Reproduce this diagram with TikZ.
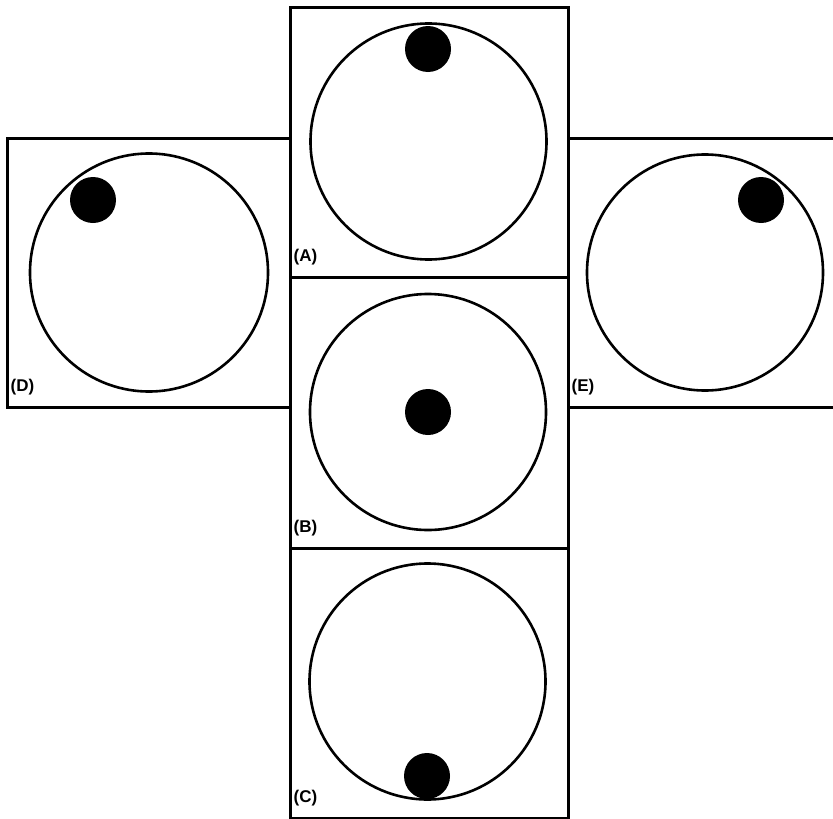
\documentclass[tikz,border=0pt]{standalone}
\usepackage{fontspec}
\setmainfont{Liberation Sans}
\usetikzlibrary{positioning}
\begin{document}
\begin{tikzpicture}[x=1pt, y=-1pt,
  panel/.style={draw, line width=3pt, inner sep=0pt},
  dish/.style={draw, circle, line width=2.6pt, minimum size=236pt, inner sep=0pt},
  ball/.style={circle, fill=black, minimum size=46pt, inner sep=0pt},
  lbl/.style={font=\fontsize{17}{17}\selectfont\bfseries, inner sep=0pt}]
\clip (0,0) rectangle (833,819);
\useasboundingbox (0,0) rectangle (833,819);
% panels
\node[panel, minimum width=278pt, minimum height=270pt] (A) at (429,142) {};
\node[panel, minimum width=278pt, minimum height=271pt] (B) at (429,412.5) {};
\node[panel, minimum width=278pt, minimum height=270pt] (C) at (429,683) {};
\node[panel, minimum width=283pt, minimum height=269pt] (D) at (148.5,272.5) {};
\node[panel, minimum width=282pt, minimum height=269pt] (E) at (709,272.5) {};
% dishes
\node[dish] (dA) at (428.5,141.5) {};
\node[dish] (dB) at (428,412) {};
\node[dish] (dC) at (427.5,681.5) {};
\node[dish, minimum size=238pt] (dD) at (149,272.5) {};
\node[dish] (dE) at (705,272.5) {};
% balls
\node[ball] (bA) at (428,49) {};
\node[ball] (bB) at (428,412) {};
\node[ball] (bC) at (427,776) {};
\node[ball] (bD) at (93,200) {};
\node[ball] (bE) at (761,200) {};
% labels
\node[lbl, above right=13pt and 5pt of A.south west] (lA) {(A)};
\node[lbl, above right=13pt and 5pt of B.south west] (lB) {(B)};
\node[lbl, above right=13pt and 5pt of C.south west] (lC) {(C)};
\node[lbl, above right=13pt and 5pt of D.south west] (lD) {(D)};
\node[lbl, above right=13pt and 5pt of E.south west] (lE) {(E)};
\end{tikzpicture}
\end{document}
